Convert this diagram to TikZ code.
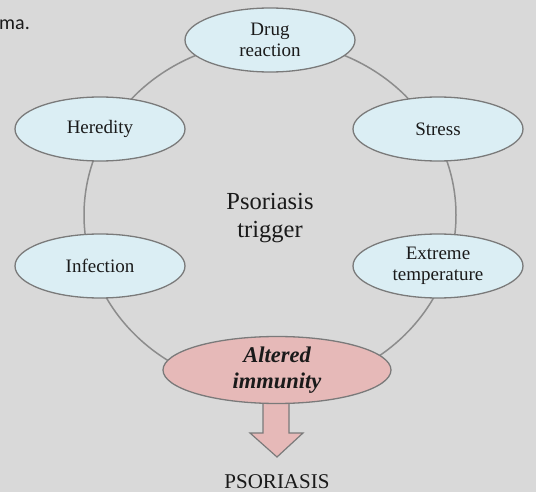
\documentclass[tikz,border=0pt]{standalone}
\usepackage{fontspec}
\setmainfont{Liberation Serif}
\newfontfamily\bodysans{Carlito}
\usetikzlibrary{shapes.geometric}
\definecolor{bg}{HTML}{D9D9D9}
\definecolor{ringgray}{HTML}{8C8C8C}
\definecolor{edgegray}{HTML}{7A7A7A}
\definecolor{bluefill}{HTML}{DBEEF4}
\definecolor{pinkfill}{HTML}{E6B9B8}
\definecolor{ink}{HTML}{1A1A1A}
\tikzset{
  trig/.style={ellipse, draw=edgegray, line width=1.3pt, fill=bluefill,
    minimum width=170pt, minimum height=64pt, inner sep=0pt,
    align=center, text=ink, font=\fontsize{19}{21.5}\selectfont},
  immune/.style={ellipse, draw=edgegray, line width=1.3pt, fill=pinkfill,
    minimum width=228pt, minimum height=67pt, inner sep=0pt,
    align=center, text=ink, font=\fontsize{22.5}{26}\selectfont\bfseries\itshape},
  ring/.style={draw=ringgray, line width=1.5pt},
  bigarrow/.style={draw=edgegray, line width=1.2pt, fill=pinkfill, line join=miter},
  plain/.style={text=ink, align=center}
}
\begin{document}
\begin{tikzpicture}[x=1pt,y=-1pt]
\fill[bg] (0,0) rectangle (536,492);
\useasboundingbox (0,0) rectangle (536,492);
% surrounding text fragment
\node[anchor=base west, inner sep=0pt, text=ink, font=\bodysans\fontsize{20}{24}\selectfont] (frag) at (-1,30) {ma.};
% ring
\coordinate (rc) at (270,215);
\draw[ring] (rc) ellipse [x radius=186pt, y radius=174pt];
% arrow
\coordinate (a1) at (263,395);
\coordinate (a2) at (289,395);
\coordinate (a3) at (289,433);
\coordinate (a4) at (303,433);
\coordinate (tip) at (277,457);
\coordinate (a6) at (250,433);
\coordinate (a7) at (263,433);
\draw[bigarrow] (a1) -- (a2) -- (a3) -- (a4) -- (tip) -- (a6) -- (a7) -- cycle;
% nodes
\node[trig] (drug) at (270,40) {Drug\\reaction};
\node[trig] (hered) at (100,129) {Heredity};
\node[trig] (stress) at (438,129) {Stress};
\node[trig] (infect) at (100,266) {Infection};
\node[trig] (extreme) at (438,266) {Extreme\\temperature};
\node[immune] (alt) at (277,370) {Altered\\immunity};
\node[plain, font=\fontsize{24.5}{28}\selectfont] (center) at (270,218) {Psoriasis\\trigger};
\node[plain, anchor=base, inner sep=0pt, font=\fontsize{21}{24}\selectfont] (psor) at (277,488) {PSORIASIS};
\end{tikzpicture}
\end{document}
